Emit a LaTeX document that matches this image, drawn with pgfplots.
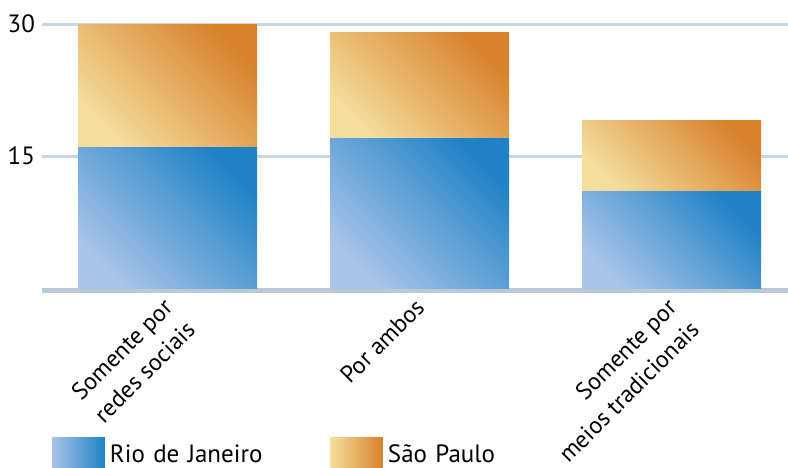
\documentclass[border=0pt]{standalone}
\usepackage{pgfplots}
\pgfplotsset{compat=1.18}
\usepackage{fontspec}
\setmainfont{PT Sans}
\definecolor{bluelight}{HTML}{A9C4E8}
\definecolor{bluedark}{HTML}{1F82C6}
\definecolor{orlight}{HTML}{F4DE9E}
\definecolor{ordark}{HTML}{D8822B}
\definecolor{gridc}{HTML}{C9D6E2}
\definecolor{axc}{HTML}{B9C9D8}
\pgfplotsset{
  leg blue/.style={legend image code/.code={\shade[left color=bluelight, right color=bluedark] (0pt,-10pt) rectangle (26.5pt,12.5pt);}},
  leg orange/.style={legend image code/.code={\shade[left color=orlight, right color=ordark] (0pt,-10pt) rectangle (26.5pt,12.5pt);}},
  base/.style={at={(21pt,89.5pt)}, anchor=south west,
    scale only axis, width=373pt, height=132pt,
    xmin=-0.498, xmax=2.462, ymin=0, ymax=30,
    ybar stacked, bar width=89.5pt},
  rio/.style={draw=none, bottom color=bluelight, top color=bluedark, shading angle=-45},
  sp/.style={draw=none, bottom color=orlight, top color=ordark, shading angle=-45},
}
\begin{document}
\begin{tikzpicture}
\path[use as bounding box] (0,0) rectangle (394pt,233.5pt);
\begin{axis}[
  base,
  axis x line*=bottom, axis y line*=left,
  x axis line style={draw=axc, line width=2.5pt, yshift=-1.25pt},
  y axis line style={draw=none},
  xtick={0,1,2},
  xticklabels={{Somente por\\redes sociais},{Por ambos},{Somente por\\meios tradicionais}},
  xtick style={draw=none}, ytick style={draw=none},
  major tick length=0pt,
  ytick={15,30},
  ymajorgrids, grid style={draw=gridc, line width=1.5pt},
  xticklabel style={rotate=45, xshift=-4pt, anchor=north east, align=right, inner sep=1pt,
    font=\fontsize{12}{16}\selectfont},
  yticklabel style={font=\fontsize{12.5}{15}\selectfont},
  /pgf/number format/assume math mode=true,
  legend columns=2,
  legend style={at={(axis description cs:0.0134,-0.735)}, anchor=south west,
    draw=none, fill=none, inner sep=0pt, outer sep=0pt,
    nodes={inner sep=0pt, outer sep=0pt, text width=110pt, align=left,
      font=\fontsize{12.5}{15}\selectfont, anchor=base west},
    /tikz/every odd column/.append style={column sep=2.5pt}},
]
\addplot[rio, leg blue] coordinates {(0,16)};
\addplot[sp, leg orange] coordinates {(0,14)};
\legend{Rio de Janeiro, São Paulo}
\end{axis}
\begin{axis}[base, hide axis]
\addplot[rio] coordinates {(1,17)};
\addplot[sp] coordinates {(1,12)};
\end{axis}
\begin{axis}[base, hide axis]
\addplot[rio] coordinates {(2,11)};
\addplot[sp] coordinates {(2,8)};
\end{axis}
\end{tikzpicture}
\end{document}
